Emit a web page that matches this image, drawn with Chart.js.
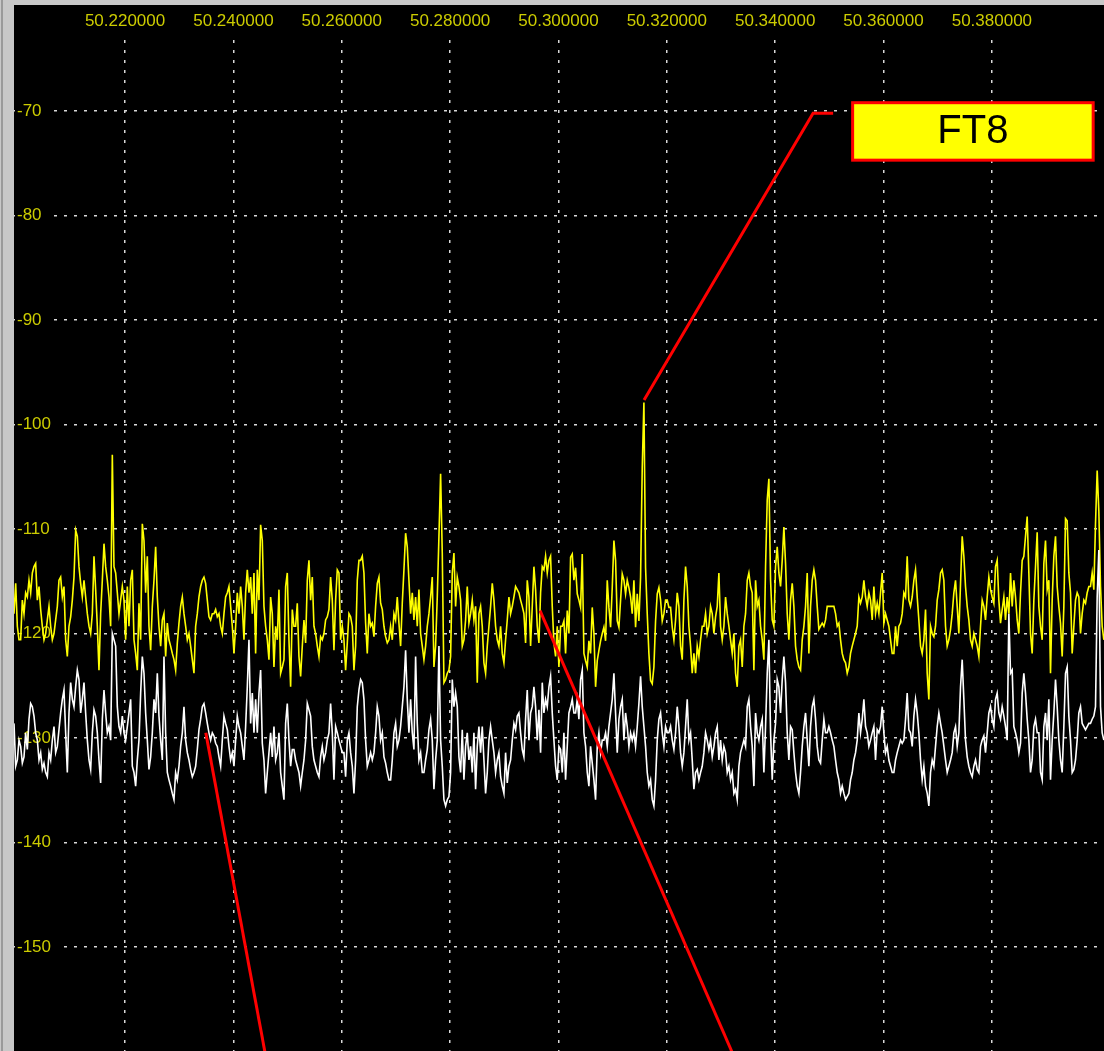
<!DOCTYPE html>
<html>
<head>
<meta charset="utf-8">
<script src="https://cdn.jsdelivr.net/npm/chart.js@4.4.1/dist/chart.umd.min.js"></script>
<style>
html, body { margin: 0; padding: 0; background: #c8c8c8; }
#edge { position: absolute; left: 1px; top: 0; width: 2px; height: 1051px; background: #9a9a9a; }
#frame { position: absolute; left: 14px; top: 5px; width: 1090px; height: 1046px; background: #000; }
</style>
</head>
<body>
<div id="edge"></div>
<div id="frame"><canvas id="spectrum"></canvas></div>
<script>
// Spectrum bins: first frequency and bin width (MHz)
const F_START = 50.1995;
const F_STEP = 0.0003076;

// Tick labels
const X_TICKS = [50.22, 50.24, 50.26, 50.28, 50.30, 50.32, 50.34, 50.36, 50.38];
const Y_TICKS = [-70, -80, -90, -100, -110, -120, -130, -140, -150];

// Yellow trace (dB), one value per bin
const yellowTrace = [
  -118.1, -115.2, -119.3, -120.6, -120.6, -116.8, -118.1, -116.1, -116.5, -114.9, -116.1, -114.2, -113.6, -113.3, -116.8, -115.5, -117.7, -119.3, -120.6, -120.0, -118.7, -117.4, -119.3, -120.6, -120.0, -118.7, -117.4, -114.9, -114.6, -116.5, -115.5, -120.6, -122.2,
  -119.3, -118.4, -116.8, -114.6, -110.1, -110.7, -113.6, -115.2, -116.5, -114.9, -116.5, -118.1, -119.3, -120.0, -118.1, -112.6, -115.8, -119.3, -123.5, -118.1, -114.9, -111.4, -113.6, -114.9, -116.5, -119.3, -102.9, -113.6, -114.2, -116.1, -118.1, -116.8, -115.5,
  -116.8, -120.6, -115.5, -119.3, -114.9, -113.9, -120.6, -121.9, -123.5, -117.1, -120.6, -109.5, -111.1, -116.1, -112.6, -119.3, -121.6, -117.4, -114.9, -111.7, -116.5, -119.3, -121.2, -118.7, -118.1, -122.2, -119.0, -120.6, -121.2, -121.9, -122.5, -123.5, -120.9,
  -119.0, -117.4, -116.5, -118.1, -119.3, -120.6, -120.0, -121.2, -122.5, -123.8, -119.3, -118.1, -116.5, -115.5, -114.9, -114.6, -115.2, -116.8, -118.4, -118.7, -118.1, -118.1, -117.7, -118.4, -118.1, -119.3, -120.0, -118.1, -116.5, -116.1, -115.5, -117.4, -119.3,
  -121.9, -119.3, -116.1, -118.1, -115.5, -117.4, -120.6, -116.1, -113.9, -116.1, -114.6, -118.1, -114.2, -121.9, -113.9, -116.8, -109.6, -111.1, -117.4, -119.3, -120.6, -122.5, -116.5, -118.1, -123.2, -119.3, -120.6, -115.8, -123.8, -123.2, -122.5, -115.5, -114.2,
  -120.6, -125.1, -117.7, -119.3, -119.3, -117.1, -122.2, -124.1, -121.2, -118.7, -120.9, -114.9, -113.0, -116.8, -114.6, -119.3, -120.0, -121.2, -122.2, -120.3, -120.6, -120.0, -118.7, -118.4, -117.7, -114.6, -116.8, -121.6, -116.8, -113.9, -114.2, -120.6, -119.3,
  -120.6, -123.5, -120.9, -118.1, -118.4, -119.3, -123.5, -121.2, -114.9, -113.0, -113.0, -112.6, -114.2, -119.0, -121.9, -118.1, -119.3, -119.0, -120.3, -117.4, -115.2, -114.6, -117.1, -117.7, -119.3, -120.3, -120.9, -120.6, -119.3, -120.6, -118.1, -118.7, -116.5,
  -119.0, -121.2, -117.1, -113.9, -110.4, -111.7, -114.9, -118.1, -116.1, -118.7, -116.5, -119.3, -115.8, -120.0, -121.2, -122.5, -121.2, -119.3, -118.1, -116.5, -114.6, -123.2, -121.2, -116.5, -110.7, -104.7, -112.3, -124.7, -124.4, -123.8, -123.5, -122.2, -114.2,
  -112.3, -117.4, -114.6, -115.5, -116.8, -121.2, -120.6, -118.7, -115.5, -119.0, -118.1, -116.8, -118.7, -117.4, -124.7, -118.1, -117.4, -119.3, -122.8, -123.8, -121.2, -119.3, -117.4, -115.2, -116.8, -119.3, -120.6, -121.2, -119.3, -121.9, -122.8, -120.6, -118.7,
  -116.5, -118.1, -117.4, -116.5, -115.5, -115.8, -116.1, -116.8, -117.4, -118.1, -120.9, -114.9, -116.5, -121.2, -117.4, -113.6, -115.8, -119.3, -120.9, -116.1, -113.6, -113.9, -112.6, -114.2, -113.0, -112.6, -117.4, -120.9, -122.2, -119.3, -123.2, -119.3, -119.3,
  -118.8, -121.9, -117.8, -120.0, -112.7, -112.4, -114.9, -113.7, -116.2, -116.8, -117.5, -112.4, -121.9, -122.6, -123.2, -120.7, -121.9, -117.5, -120.0, -125.1, -122.6, -121.6, -120.7, -120.0, -119.4, -120.7, -114.9, -117.5, -119.4, -115.6, -111.1, -113.0, -118.8,
  -119.4, -116.8, -114.3, -114.9, -116.2, -114.9, -115.6, -116.5, -118.1, -114.9, -119.4, -116.2, -118.8, -114.6, -104.1, -97.9, -113.7, -118.1, -121.9, -124.5, -124.8, -123.2, -118.8, -116.2, -115.6, -116.8, -118.8, -118.1, -116.8, -116.8, -117.5, -117.5, -119.4,
  -120.6, -118.7, -116.1, -117.4, -121.2, -122.5, -116.8, -113.6, -115.5, -119.3, -121.2, -123.8, -121.9, -123.8, -121.2, -122.2, -120.6, -119.3, -119.3, -118.1, -120.0, -119.3, -117.4, -118.1, -120.0, -118.4, -117.4, -114.2, -119.3, -120.6, -119.3, -116.5, -118.1,
  -119.3, -120.6, -121.9, -120.0, -123.8, -125.1, -121.2, -120.6, -123.2, -119.3, -118.1, -114.9, -114.2, -115.5, -116.1, -123.5, -114.9, -117.4, -116.8, -119.3, -120.6, -122.5, -113.6, -107.2, -105.2, -114.9, -118.7, -119.3, -113.6, -111.7, -114.2, -115.5, -113.0,
  -109.8, -113.3, -118.1, -120.6, -116.8, -115.2, -117.4, -121.2, -122.5, -123.2, -123.5, -120.6, -119.3, -117.4, -114.2, -121.9, -117.4, -114.9, -113.9, -114.9, -117.4, -119.6, -119.3, -119.0, -119.3, -118.7, -117.4, -117.4, -117.4, -117.4, -117.4, -118.1, -119.3,
  -119.0, -120.6, -121.9, -122.5, -122.8, -123.8, -123.2, -121.9, -121.2, -120.6, -120.0, -119.3, -116.5, -117.1, -116.5, -114.9, -116.5, -117.4, -116.1, -116.8, -118.7, -115.5, -118.1, -117.1, -118.1, -116.1, -114.2, -119.0, -118.1, -118.7, -119.3, -120.6, -121.9,
  -121.9, -119.3, -121.2, -119.3, -119.0, -118.1, -116.1, -116.5, -112.6, -116.8, -117.4, -116.5, -114.9, -113.9, -116.5, -118.7, -121.2, -121.9, -120.6, -117.7, -123.8, -126.3, -119.3, -120.0, -120.3, -119.3, -116.8, -115.8, -114.2, -113.9, -114.9, -119.3, -121.2,
  -120.6, -119.6, -118.1, -116.1, -114.9, -117.4, -120.0, -115.2, -110.7, -112.6, -115.5, -117.4, -118.7, -120.6, -121.2, -120.0, -120.6, -121.2, -122.2, -119.3, -116.8, -117.4, -118.7, -116.5, -114.6, -115.8, -116.5, -117.1, -113.6, -113.0, -116.8, -119.0, -117.7,
  -116.5, -118.7, -116.5, -118.1, -114.2, -117.4, -114.9, -116.5, -118.7, -120.0, -116.1, -113.0, -112.6, -110.7, -108.8, -114.2, -120.0, -121.9, -116.8, -113.6, -110.3, -117.4, -119.3, -120.6, -113.3, -111.1, -115.8, -114.9, -123.8, -116.8, -112.6,
  -110.7, -115.5, -117.4, -119.0, -122.2, -117.4, -109.0, -109.2, -114.2, -116.1, -121.9, -119.3, -116.8, -116.1, -116.5, -120.0, -118.1, -116.8, -117.1, -116.1, -115.5, -115.5, -114.2, -115.8, -109.5, -104.4, -108.3, -115.5, -119.3, -120.6
];

// White trace (dB), one value per bin
const whiteTrace = [
  -128.6, -132.7, -132.1, -130.2, -130.8, -132.4, -131.8, -129.5, -131.1, -128.2, -126.7, -127.0, -127.9, -129.5, -130.2, -132.1, -131.4, -133.0, -132.4, -133.3, -133.7, -131.4, -132.1, -130.2, -128.9, -131.4, -130.8, -129.2, -127.6, -126.3, -125.4, -129.5, -133.3,
  -127.6, -124.7, -126.3, -127.0, -125.1, -123.5, -124.4, -127.6, -126.3, -124.7, -127.6, -130.2, -132.1, -133.0, -129.5, -127.3, -127.9, -129.5, -132.1, -134.3, -128.2, -125.4, -127.6, -129.5, -128.9, -130.2, -120.0, -120.6, -121.2, -127.0, -128.9, -129.5, -127.9,
  -129.5, -130.2, -128.9, -127.6, -126.3, -132.7, -133.3, -134.6, -132.1, -130.2, -125.7, -122.2, -123.8, -127.6, -130.2, -133.0, -131.8, -129.5, -126.3, -127.6, -123.8, -127.9, -130.2, -132.1, -122.2, -129.5, -133.3, -134.0, -134.6, -135.3, -135.9, -133.3, -134.0,
  -132.7, -130.8, -129.5, -127.0, -130.2, -131.4, -132.1, -133.0, -133.7, -133.3, -132.7, -131.1, -129.2, -128.2, -127.0, -126.7, -127.6, -128.6, -129.5, -130.2, -129.5, -129.8, -130.5, -130.8, -131.8, -132.7, -130.2, -127.9, -128.6, -129.2, -130.8, -132.1, -131.4,
  -132.7, -130.2, -127.9, -128.9, -129.5, -130.8, -132.1, -128.9, -125.1, -120.6, -128.6, -125.7, -129.5, -126.3, -129.5, -125.7, -123.5, -130.5, -132.1, -135.3, -133.3, -131.4, -129.5, -131.8, -128.9, -132.1, -131.4, -129.5, -133.3, -134.6, -135.9, -128.6, -126.7,
  -130.2, -132.7, -131.1, -131.1, -132.1, -132.7, -133.3, -134.6, -133.3, -132.1, -130.2, -126.7, -127.3, -127.9, -130.8, -132.1, -132.7, -133.3, -133.7, -131.8, -130.8, -132.1, -131.4, -130.2, -129.5, -126.7, -129.5, -134.0, -128.9, -129.5, -130.2, -130.8, -131.4,
  -131.4, -133.7, -130.2, -129.5, -131.4, -132.7, -135.3, -132.1, -127.0, -125.4, -124.4, -124.7, -126.3, -130.2, -132.7, -132.1, -131.4, -132.1, -131.4, -129.5, -127.0, -127.9, -130.2, -129.5, -131.8, -132.4, -133.3, -134.0, -134.0, -132.1, -129.5, -128.6, -130.8,
  -130.2, -128.9, -127.0, -125.1, -121.6, -126.3, -129.5, -126.3, -129.5, -131.1, -122.2, -128.6, -132.1, -131.4, -133.3, -133.3, -132.1, -131.1, -129.2, -128.2, -130.2, -134.9, -132.1, -130.2, -121.2, -130.2, -132.7, -135.9, -136.5, -135.9, -135.6, -133.3, -124.4,
  -127.0, -125.7, -127.0, -131.8, -133.3, -129.2, -134.0, -130.8, -129.5, -132.1, -130.8, -133.3, -129.5, -134.9, -130.8, -128.9, -131.4, -128.9, -132.1, -135.3, -133.3, -130.2, -128.9, -130.2, -131.4, -133.3, -132.1, -131.4, -133.7, -134.6, -135.3, -131.4, -134.3,
  -132.7, -132.1, -130.2, -128.6, -129.2, -127.9, -127.6, -129.5, -131.1, -131.8, -128.2, -125.4, -130.2, -127.6, -127.0, -125.1, -127.0, -130.2, -127.3, -131.4, -124.7, -127.6, -126.3, -127.0, -125.1, -124.1, -127.6, -130.2, -132.7, -134.0, -130.8, -131.1, -133.3,
  -129.5, -134.0, -130.8, -127.6, -127.0, -126.3, -127.6, -127.6, -126.3, -128.2, -124.4, -123.5, -129.5, -130.8, -133.3, -134.6, -130.8, -132.4, -134.0, -135.9, -130.8, -129.5, -131.4, -130.2, -130.2, -129.5, -130.8, -128.9, -127.6, -126.3, -123.8, -127.6, -131.4,
  -128.2, -127.0, -126.3, -130.2, -127.6, -128.9, -130.8, -129.5, -130.2, -129.5, -130.8, -128.9, -126.7, -124.1, -127.0, -128.9, -130.8, -133.3, -134.6, -134.0, -135.9, -136.5, -134.0, -130.2, -128.2, -127.6, -129.5, -130.8, -128.9, -129.5, -129.5, -128.9, -130.2,
  -131.1, -129.5, -127.0, -128.9, -131.4, -132.7, -131.4, -128.9, -126.3, -130.2, -129.5, -132.1, -134.9, -133.3, -133.0, -134.0, -133.3, -132.7, -131.4, -129.5, -130.2, -131.1, -130.2, -131.8, -130.8, -129.5, -128.9, -132.1, -130.2, -132.1, -130.8, -131.4, -133.3,
  -132.7, -134.0, -133.3, -135.3, -134.9, -135.9, -132.7, -131.4, -130.8, -130.2, -130.8, -127.0, -126.3, -128.9, -130.8, -134.6, -127.6, -129.5, -130.2, -128.9, -128.2, -133.3, -128.9, -123.8, -120.6, -129.5, -134.0, -130.2, -128.6, -124.4, -125.1, -127.6, -124.4,
  -122.2, -124.7, -129.5, -132.1, -128.9, -129.2, -131.4, -133.3, -134.6, -135.3, -133.3, -130.8, -128.9, -127.6, -130.2, -132.7, -128.9, -127.0, -126.3, -128.2, -130.8, -132.1, -132.4, -130.2, -128.2, -129.5, -129.5, -128.9, -129.5, -130.2, -130.8, -132.1, -133.3,
  -134.0, -135.3, -134.6, -135.3, -135.9, -135.6, -135.3, -134.0, -133.3, -132.1, -131.4, -130.2, -127.6, -129.5, -128.2, -126.3, -128.9, -129.5, -130.8, -130.2, -129.5, -128.9, -132.1, -129.2, -129.5, -128.9, -127.0, -129.5, -131.4, -130.8, -132.1, -132.7, -133.3,
  -133.3, -132.1, -131.4, -130.8, -130.2, -130.5, -130.2, -128.2, -125.7, -129.2, -129.5, -130.8, -127.9, -126.3, -127.6, -129.5, -132.1, -134.0, -132.7, -134.6, -135.3, -136.5, -133.3, -132.1, -132.7, -130.8, -128.9, -127.6, -128.6, -129.5, -130.8, -132.1, -133.3,
  -132.7, -132.1, -131.4, -129.5, -128.9, -130.8, -129.5, -125.1, -122.5, -126.3, -130.2, -131.8, -132.7, -133.3, -133.7, -132.7, -132.1, -133.0, -133.3, -130.8, -130.2, -129.8, -131.4, -129.5, -127.6, -127.0, -128.2, -128.9, -126.3, -125.7, -127.6, -128.2, -127.0,
  -127.9, -128.9, -130.2, -118.1, -123.8, -123.5, -128.9, -129.5, -130.2, -131.4, -130.5, -125.7, -123.8, -125.7, -128.2, -130.2, -133.3, -132.1, -128.9, -128.2, -129.5, -129.5, -133.3, -134.0, -128.9, -127.6, -130.2, -126.3, -134.0, -130.2, -127.6,
  -124.4, -127.0, -130.2, -132.1, -133.3, -128.9, -123.8, -123.2, -127.9, -130.2, -133.3, -133.0, -132.1, -130.2, -127.6, -127.0, -128.6, -128.9, -129.2, -128.9, -128.6, -128.6, -128.2, -127.9, -127.0, -116.5, -112.0, -127.0, -129.5, -130.2
];

// Annotations in chart units [MHz, dB]
const FT8_BOX = [50.3543, -69.2, 50.3987, -74.7];
const FT8_LEADER = [[50.3158, -97.65], [50.3470, -70.2], [50.3507, -70.2]];
const POINTERS = [
  [[50.2349, -129.5], [50.2458, -160]],
  [[50.2966, -117.8], [50.3320, -160]]
];

const LABEL_COLOR = '#cccc00';
const GRID_COLOR = '#d8d8d8';
const LABEL_FONT = { family: '"Liberation Sans", Arial, sans-serif', size: 17 };

/**
 * Pairs each trace value with the frequency of its bin
 */
function toPoints(trace) {
  return trace.map((v, i) => ({ x: F_START + i * F_STEP, y: v }));
}

/**
 * Draws red pointer lines and the FT8 tag on top of the traces
 */
const annotations = {
  id: 'annotations',
  afterDatasetsDraw(chart) {
    let ctx = chart.ctx;
    let sx = chart.scales.x, sy = chart.scales.y;
    let px = p => [sx.getPixelForValue(p[0]), sy.getPixelForValue(p[1])];
    ctx.save();
    ctx.strokeStyle = '#ff0000';
    ctx.lineWidth = 3;
    [FT8_LEADER].concat(POINTERS).forEach(path => {
      ctx.beginPath();
      path.forEach((p, i) => {
        let [x, y] = px(p);
        if (i == 0) ctx.moveTo(x, y); else ctx.lineTo(x, y);
      });
      ctx.stroke();
    });
    let [x1, y1] = px([FT8_BOX[0], FT8_BOX[1]]);
    let [x2, y2] = px([FT8_BOX[2], FT8_BOX[3]]);
    ctx.fillStyle = '#ffff00';
    ctx.fillRect(x1, y1, x2 - x1, y2 - y1);
    ctx.strokeRect(x1, y1, x2 - x1, y2 - y1);
    ctx.fillStyle = '#000';
    ctx.font = '40px "Liberation Sans", Arial, sans-serif';
    ctx.textAlign = 'center';
    ctx.textBaseline = 'middle';
    ctx.fillText('FT8', (x1 + x2) / 2, (y1 + y2) / 2 + 1);
    ctx.restore();
  }
};

let ctx = document.getElementById('spectrum').getContext('2d');
let chart = new Chart(ctx, {
  type: 'line',
  data: {
    datasets: [
      { data: toPoints(whiteTrace), borderColor: '#ffffff', borderWidth: 1.6, pointRadius: 0, tension: 0 },
      { data: toPoints(yellowTrace), borderColor: '#ffff00', borderWidth: 1.6, pointRadius: 0, tension: 0 }
    ]
  },
  plugins: [annotations],
  options: {
    responsive: true,
    maintainAspectRatio: false,
    animation: false,
    layout: { padding: 0 },
    plugins: { legend: { display: false }, tooltip: { enabled: false } },
    scales: {
      x: {
        type: 'linear',
        position: 'top',
        min: 50.1995,
        max: 50.4007,
        afterBuildTicks: s => { s.ticks = X_TICKS.map(v => ({ value: v })); },
        afterFit: s => { s.height = 35; s.paddingLeft = 0; s.paddingRight = 0; },
        border: { display: false, dash: [3, 7] },
        grid: { color: GRID_COLOR, lineWidth: 1.5, drawTicks: false },
        ticks: {
          padding: 8,
          maxRotation: 0,
          autoSkip: false,
          color: LABEL_COLOR,
          font: LABEL_FONT,
          callback: v => Number(v).toFixed(6)
        }
      },
      y: {
        type: 'linear',
        position: 'left',
        min: -159.95,
        max: -63.2,
        afterBuildTicks: s => { s.ticks = Y_TICKS.map(v => ({ value: v })); },
        afterFit: s => { s.width = 0; s.paddingTop = 0; s.paddingBottom = 0; },
        border: { display: false, dash: [3, 7] },
        grid: { color: GRID_COLOR, lineWidth: 1.5, drawTicks: false },
        ticks: {
          mirror: true,
          padding: 3,
          color: LABEL_COLOR,
          font: LABEL_FONT,
          showLabelBackdrop: true,
          backdropColor: '#000',
          backdropPadding: { top: 2, bottom: 2, left: 2, right: 8 }
        }
      }
    }
  }
});
</script>
</body>
</html>
